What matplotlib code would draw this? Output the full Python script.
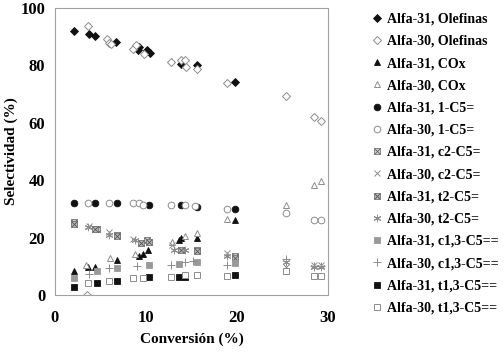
import matplotlib
matplotlib.use('Agg')
import matplotlib.pyplot as plt
from matplotlib.legend_handler import HandlerTuple

plt.rcParams['font.family'] = ['Liberation Serif', 'DejaVu Serif']
plt.rcParams['font.weight'] = 'bold'

# conversion (%) / selectivity (%)
ole31_x = [2.1, 3.7, 4.4, 6.7, 9.1, 9.2, 10.1, 10.4, 13.8, 15.6, 19.8]
ole31_y = [92.1, 91.1, 90.1, 88.2, 85.5, 86.5, 85.3, 84.2, 80.6, 80.2, 74.2]
ole30_x = [3.6, 5.7, 5.9, 6.2, 8.6, 8.9, 9.8, 12.7, 13.8, 14.3, 14.4, 15.6, 18.9, 25.4, 28.5, 29.2, 3.5]
ole30_y = [93.6, 89.4, 88.0, 87.4, 85.9, 87.1, 83.9, 81.2, 81.8, 81.9, 79.6, 78.9, 73.8, 69.3, 62.1, 60.6, 0.0]

cox31_x = [2.1, 3.6, 4.4, 6.8, 9.2, 9.7, 10.2, 13.6, 13.8, 15.6, 19.8]
cox31_y = [8.2, 9.7, 9.9, 12.2, 13.6, 14.3, 15.7, 19.2, 19.8, 20.0, 26.0]
cox30_x = [3.4, 6.1, 8.8, 12.9, 14.3, 15.6, 18.9, 25.4, 28.5, 29.2]
cox30_y = [10.3, 12.8, 14.3, 18.6, 20.6, 21.6, 26.5, 31.2, 38.5, 39.6]

c1_31_x = [2.1, 4.4, 6.8, 10.3, 13.8, 15.6, 19.8]
c1_31_y = [32.1, 32.1, 32.1, 31.5, 31.5, 30.7, 30.1]
c1_30_x = [3.6, 5.9, 8.6, 9.2, 9.7, 12.7, 14.3, 15.4, 18.9, 25.4, 28.5, 29.2]
c1_30_y = [32.1, 32.1, 32.1, 31.9, 31.5, 31.5, 31.5, 31.1, 30.1, 28.6, 26.0, 26.0]

c2_31_x = [2.1, 4.6, 6.8, 10.1, 15.6, 19.8]
c2_31_y = [25.6, 23.0, 21.0, 19.0, 15.7, 13.6]
c2_30_x = [3.7, 5.9, 8.6, 12.9, 18.9, 25.4, 28.5, 29.2]
c2_30_y = [24.1, 21.8, 19.5, 17.5, 14.6, 9.9, 10.5, 10.5]

t2_31_x = [2.1, 4.4, 6.8, 9.4, 10.3, 13.8, 15.6, 19.8]
t2_31_y = [24.8, 23.0, 20.6, 18.1, 18.4, 15.7, 15.2, 12.8]
t2_30_x = [3.6, 5.9, 8.8, 13.1, 14.3, 18.9, 25.4, 28.5, 29.2]
t2_30_y = [23.7, 21.0, 19.0, 15.7, 15.7, 13.6, 11.4, 9.7, 9.7]

c13_31_x = [2.1, 4.6, 6.8, 10.3, 13.6, 15.6, 19.8]
c13_31_y = [5.8, 8.2, 9.3, 10.5, 10.7, 11.6, 11.3]
c13_30_x = [3.7, 5.9, 9.0, 12.7, 14.3, 15.2, 18.9, 25.4, 28.5, 29.2]
c13_30_y = [7.3, 9.3, 10.1, 10.5, 11.6, 12.0, 10.5, 12.6, 10.1, 10.1]

t13_31_x = [2.1, 4.6, 6.8, 10.3, 13.6, 14.3, 19.8]
t13_31_y = [2.9, 4.3, 5.0, 6.2, 6.2, 6.4, 6.8]
t13_30_x = [3.6, 5.9, 8.6, 9.7, 12.7, 14.3, 15.6, 18.9, 25.4, 28.5, 29.2]
t13_30_y = [4.1, 5.0, 5.8, 5.9, 6.2, 7.0, 7.0, 6.6, 8.2, 6.6, 6.6]

labels = ['Alfa-31, Olefinas', 'Alfa-30, Olefinas', 'Alfa-31, COx', 'Alfa-30, COx',
          'Alfa-31, 1-C5=', 'Alfa-30, 1-C5=', 'Alfa-31, c2-C5=', 'Alfa-30, c2-C5=',
          'Alfa-31, t2-C5=', 'Alfa-30, t2-C5=', 'Alfa-31, c1,3-C5==', 'Alfa-30, c1,3-C5==',
          'Alfa-31, t1,3-C5==', 'Alfa-30, t1,3-C5==']

DARK = '#111111'
GRAY = '#8c8c8c'
MS = 4.8

fig = plt.figure(figsize=(5.04, 3.52), dpi=100)
ax = fig.add_axes([0.109, 0.162, 0.542, 0.815])


def filled(x, y, m, ms=MS, c=DARK):
    return ax.plot(x, y, ls='none', marker=m, ms=ms, mfc=c, mec=c, mew=0.6)[0]


def hollow(x, y, m, ms=MS, c=GRAY):
    return ax.plot(x, y, ls='none', marker=m, ms=ms, mfc='white', mec=c, mew=0.7)[0]


def boxed(x, y, face, inner):
    h1 = ax.plot(x, y, ls='none', marker='s', ms=MS, mfc=face, mec='#777777', mew=0.6)[0]
    h2 = ax.plot(x, y, ls='none', marker='x', ms=MS - 0.8, mec=inner, mew=0.6)[0]
    return (h1, h2)


handles = []
handles.append(filled(ole31_x, ole31_y, 'D', ms=4.2))
handles.append(hollow(ole30_x, ole30_y, 'D', ms=4.2))
handles.append(filled(cox31_x, cox31_y, '^'))
handles.append(hollow(cox30_x, cox30_y, '^'))
handles.append(filled(c1_31_x, c1_31_y, 'o'))
handles.append(hollow(c1_30_x, c1_30_y, 'o'))
handles.append(boxed(c2_31_x, c2_31_y, '#d0d0d0', '#666666'))
handles.append(ax.plot(c2_30_x, c2_30_y, ls='none', marker='x', ms=MS, mec=GRAY, mew=0.7)[0])
handles.append(boxed(t2_31_x, t2_31_y, '#b8b8b8', '#555555'))
handles.append(ax.plot(t2_30_x, t2_30_y, ls='none', marker=(6, 2, 0), ms=MS + 0.5, mec=GRAY, mew=0.7)[0])
handles.append(filled(c13_31_x, c13_31_y, 's', c='#999999'))
handles.append(ax.plot(c13_30_x, c13_30_y, ls='none', marker='+', ms=MS + 1, mec=GRAY, mew=0.7)[0])
handles.append(filled(t13_31_x, t13_31_y, 's'))
handles.append(hollow(t13_30_x, t13_30_y, 's'))

ax.set_xlim(0, 30)
ax.set_ylim(0, 100)
ax.set_xticks([0, 10, 20, 30])
ax.set_yticks([0, 20, 40, 60, 80, 100])
ax.tick_params(length=0, labelsize=12)
ax.tick_params(axis='x', pad=11)
ax.tick_params(axis='y', pad=7)
for lab in ax.get_xticklabels() + ax.get_yticklabels():
    lab.set_fontweight('bold')
for s in ax.spines.values():
    s.set_color('#a0a0a0')
    s.set_linewidth(0.8)

ax.set_xlabel('Conversión (%)', fontsize=11, fontweight='bold')
ax.set_ylabel('Selectividad (%)', fontsize=11, fontweight='bold')
ax.xaxis.set_label_coords(0.5, -0.13)
ax.yaxis.set_label_coords(-0.135, 0.5)

leg = fig.legend(handles, labels, loc='upper left', bbox_to_anchor=(0.725, 0.98),
                 frameon=False, handlelength=0.8, handletextpad=0.35,
                 labelspacing=0.665, borderaxespad=0,
                 prop={'size': 10, 'weight': 'bold'},
                 handler_map={tuple: HandlerTuple(ndivide=1)})

fig.savefig('out.png', dpi=100)
